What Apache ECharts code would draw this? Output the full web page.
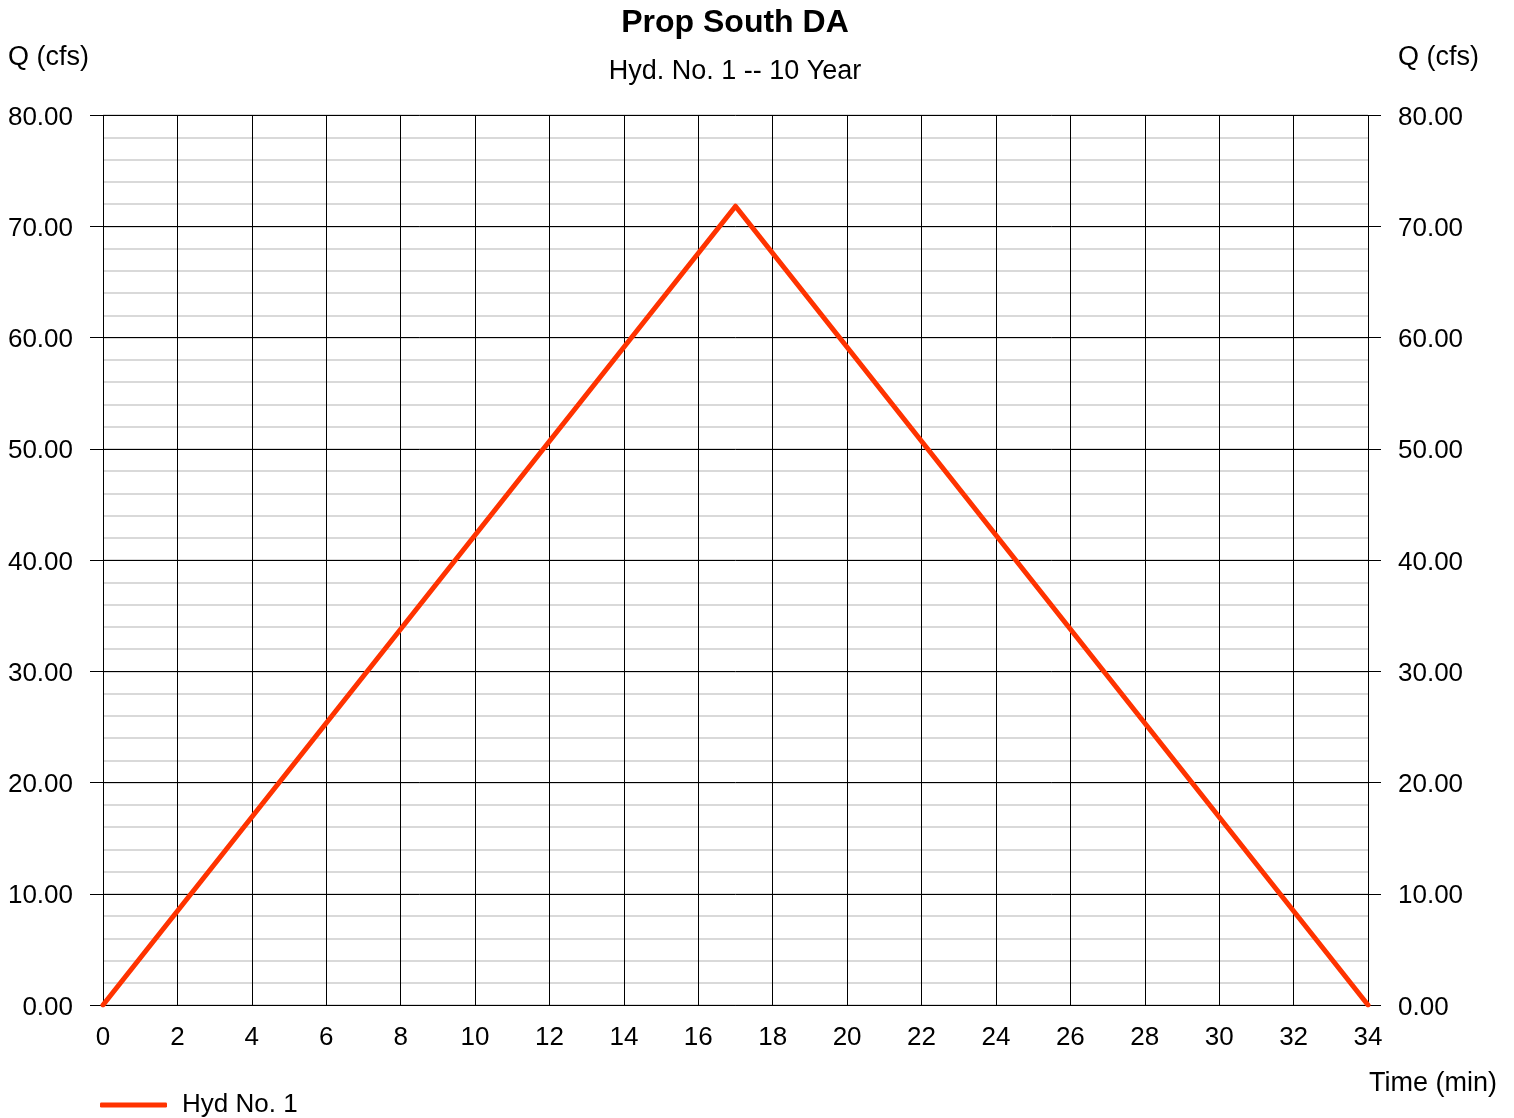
<!DOCTYPE html>
<html>
<head>
<meta charset="utf-8">
<title>Prop South DA</title>
<script src="https://cdn.jsdelivr.net/npm/echarts@6/dist/echarts.min.js"></script>
<style>
  html, body { margin: 0; padding: 0; background: #fff; }
  #chart { width: 1514px; height: 1118px; }
</style>
</head>
<body>
<div id="chart"></div>
<script>
// hydrograph data
var timeMin = [0, 17, 34];
var flowCfs = [0, 71.8, 0];
var seriesName = 'Hyd No. 1';

var FONT = '"Liberation Sans", Arial, sans-serif';
var LINE_COLOR = '#ff3300';

var chart = echarts.init(document.getElementById('chart'));

var points = timeMin.map(function (t, i) { return [t, flowCfs[i]]; });

function qAxis(side) {
  var left = side === 'left';
  return {
    type: 'value',
    position: side,
    min: 0,
    max: 80,
    interval: 10,
    z: 3,
    name: 'Q (cfs)',
    nameLocation: 'end',
    nameGap: 57,
    nameTextStyle: {
      color: '#000',
      fontFamily: FONT,
      fontSize: 27,
      align: left ? 'right' : 'left',
      verticalAlign: 'middle',
      padding: left ? [0, 14, 0, 0] : [0, 0, 0, 30]
    },
    axisLine: { show: false },
    axisTick: { show: true, inside: false, length: 13, lineStyle: { color: '#000', width: 1 } },
    axisLabel: {
      margin: 30,
      formatter: function (v) { return '{v|' + v.toFixed(2) + '}'; },
      rich: { v: { color: '#000', fontFamily: FONT, fontSize: 26, padding: [5, 0, 0, 0] } }
    },
    splitLine: { show: left, lineStyle: { color: '#000', width: 1 } }
  };
}

// light grey minor lines every 2 cfs, drawn under the black ones
var minorAxis = {
  type: 'value',
  min: 0,
  max: 80,
  interval: 2,
  z: 1,
  axisLine: { show: false },
  axisTick: { show: false },
  axisLabel: { show: false },
  splitLine: { show: true, lineStyle: { color: '#cccccc', width: 1.5 } }
};

chart.setOption({
  backgroundColor: '#fff',
  animation: false,
  title: [
    {
      text: 'Prop South DA',
      left: 735,
      textAlign: 'center',
      top: 7,
      padding: 0,
      textStyle: { color: '#000', fontFamily: FONT, fontSize: 32, fontWeight: 'bold' }
    },
    {
      text: 'Hyd. No. 1 -- 10 Year',
      left: 735,
      textAlign: 'center',
      top: 58,
      padding: 0,
      textStyle: { color: '#000', fontFamily: FONT, fontSize: 27, fontWeight: 'normal' }
    }
  ],
  legend: {
    left: 100,
    top: 1092,
    padding: 0,
    icon: 'roundRect',
    itemWidth: 67,
    itemHeight: 5,
    itemGap: 10,
    textStyle: { color: '#000', fontFamily: FONT, fontSize: 26, padding: [4, 0, 0, 10] },
    data: [seriesName]
  },
  grid: { left: 103, right: 146, top: 115, bottom: 113, containLabel: false },
  xAxis: {
    type: 'value',
    min: 0,
    max: 34,
    interval: 2,
    z: 3,
    name: 'Time (min)',
    nameLocation: 'end',
    nameGap: 0,
    nameTextStyle: {
      color: '#000',
      fontFamily: FONT,
      fontSize: 27,
      align: 'left',
      verticalAlign: 'top',
      padding: [65, 0, 0, 1]
    },
    axisLine: { show: true, lineStyle: { color: '#000', width: 1 } },
    axisTick: { show: false },
    axisLabel: { color: '#000', fontFamily: FONT, fontSize: 26, margin: 20 },
    splitLine: { show: true, lineStyle: { color: '#000', width: 1 } }
  },
  yAxis: [qAxis('left'), qAxis('right'), minorAxis],
  series: [
    {
      name: seriesName,
      type: 'line',
      yAxisIndex: 0,
      data: points,
      showSymbol: false,
      symbol: 'none',
      color: LINE_COLOR,
      lineStyle: { color: LINE_COLOR, width: 5, cap: 'round', join: 'round' },
      z: 5
    }
  ]
});
</script>
</body>
</html>
